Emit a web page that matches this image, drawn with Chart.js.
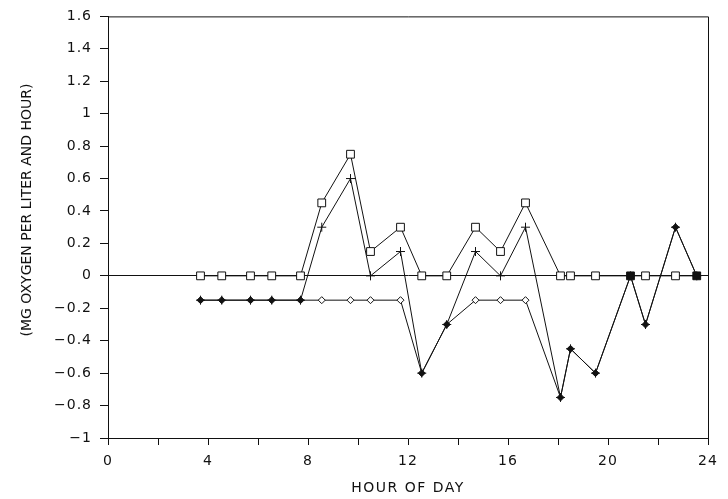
<!DOCTYPE html>
<html>
<head>
<meta charset="utf-8">
<script src="https://cdn.jsdelivr.net/npm/chart.js@4/dist/chart.umd.min.js"></script>
<style>
  html, body { margin: 0; padding: 0; background: #fff; }
  #wrap { width: 728px; height: 499px; }
</style>
</head>
<body>
<div id="wrap"><canvas id="oxyChart"></canvas></div>
<script>
// hour of sampling
const hours = [3.7, 4.55, 5.7, 6.55, 7.7, 8.55, 9.7, 10.5, 11.7, 12.55, 13.55,
  14.7, 15.7, 16.7, 18.1, 18.5, 19.5, 20.9, 21.5, 22.7, 23.55];
// open squares
const gross = [0, 0, 0, 0, 0, 0.45, 0.75, 0.15, 0.3, 0, 0,
  0.3, 0.15, 0.45, 0, 0, 0, 0, 0, 0, 0];
// plus signs
const net = [-0.15, -0.15, -0.15, -0.15, -0.15, 0.3, 0.6, 0, 0.15, -0.6, -0.3,
  0.15, 0, 0.3, -0.75, -0.45, -0.6, 0, -0.3, 0.3, 0];
// diamonds
const resp = [-0.15, -0.15, -0.15, -0.15, -0.15, -0.15, -0.15, -0.15, -0.15, -0.6, -0.3,
  -0.15, -0.15, -0.15, -0.75, -0.45, -0.6, 0, -0.3, 0.3, 0];

const xTicks = [0, 4, 8, 12, 16, 20, 24];
const yTitle = "(MG OXYGEN PER LITER AND HOUR)";
const xTitle = "HOUR OF DAY";

const toPoints = vals => hours.map((h, i) => ({ x: h, y: vals[i] }));

const INK = "#111";
const FONT = "'DejaVu Sans', sans-serif";

// squares turn solid where a filled diamond sits on them, diamonds where the cross does
const squareFill = gross.map((v, i) => v === resp[i] ? INK : "#fff");
const diamondFill = resp.map((v, i) => v === net[i] ? INK : "#fff");

const framePlugin = {
  id: "frame",
  beforeDraw(chart) {
    chart.ctx.letterSpacing = "1px";
  },
  afterDraw(chart) {
    const { ctx, chartArea: a } = chart;
    ctx.save();
    ctx.strokeStyle = INK;
    ctx.lineWidth = 1;
    ctx.beginPath();
    ctx.moveTo(a.left, a.top + 0.5);
    ctx.lineTo(a.right + 0.5, a.top + 0.5);
    ctx.lineTo(a.right + 0.5, a.bottom);
    ctx.stroke();

    ctx.fillStyle = INK;
    ctx.font = "14px " + FONT;
    ctx.textAlign = "center";
    ctx.textBaseline = "middle";
    ctx.letterSpacing = "1.5px";
    ctx.fillText(xTitle, (a.left + a.right) / 2, 488);
    ctx.letterSpacing = "0px";
    ctx.translate(27, 210);
    ctx.rotate(-Math.PI / 2);
    ctx.fillText(yTitle, 0, 0);
    ctx.restore();
  }
};

new Chart(document.getElementById("oxyChart"), {
  type: "line",
  data: {
    datasets: [
      {
        label: "squares",
        data: toPoints(gross),
        borderColor: INK,
        borderWidth: 1,
        pointStyle: "rect",
        pointRadius: 5.5,
        pointBorderWidth: 1,
        pointBorderColor: INK,
        pointBackgroundColor: squareFill
      },
      {
        label: "diamonds",
        data: toPoints(resp),
        borderColor: INK,
        borderWidth: 1,
        pointStyle: "rectRot",
        pointRadius: 3.5,
        pointBorderWidth: 1,
        pointBorderColor: INK,
        pointBackgroundColor: diamondFill
      },
      {
        label: "crosses",
        data: toPoints(net),
        borderColor: INK,
        borderWidth: 1,
        pointStyle: "cross",
        pointRadius: 4.5,
        pointBorderWidth: 1,
        pointBorderColor: INK
      }
    ]
  },
  options: {
    responsive: true,
    maintainAspectRatio: false,
    animation: false,
    layout: { padding: { left: 0, top: 13, right: 20, bottom: 0 } },
    plugins: {
      legend: { display: false },
      tooltip: { enabled: false }
    },
    scales: {
      x: {
        type: "linear",
        min: 0,
        max: 24,
        afterFit: s => { s.height = 61; },
        border: { display: true, color: INK, width: 1 },
        grid: { drawOnChartArea: false, tickLength: 7, tickColor: INK },
        ticks: {
          stepSize: 2,
          autoSkip: false,
          maxRotation: 0,
          padding: 8,
          color: INK,
          font: { family: FONT, size: 14 },
          callback: v => xTicks.includes(v) ? String(v) : ""
        }
      },
      y: {
        min: -1,
        max: 1.6,
        afterFit: s => { s.width = 108; },
        border: { display: true, color: INK, width: 1 },
        grid: {
          color: c => c.tick && c.tick.value === 0 ? INK : "rgba(0,0,0,0)",
          tickColor: INK,
          tickLength: 8
        },
        ticks: {
          stepSize: 0.2,
          padding: 8,
          color: INK,
          font: { family: FONT, size: 14 },
          callback: v => String(Math.round(v * 10) / 10).replace("-", "\u2212")
        }
      }
    }
  },
  plugins: [framePlugin]
});
</script>
</body>
</html>
